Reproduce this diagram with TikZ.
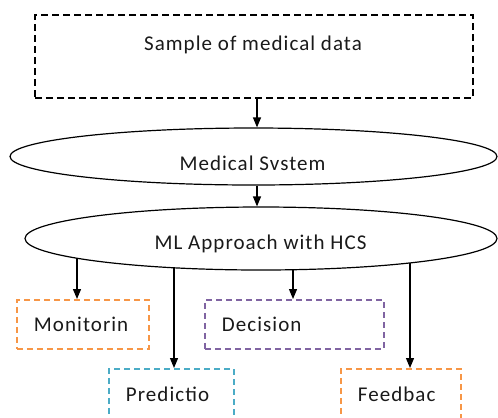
\documentclass[tikz,border=0pt]{standalone}
\usepackage{fontspec}
\setmainfont{Carlito}[LetterSpace=5]
\usetikzlibrary{shapes.geometric,arrows.meta,backgrounds}

\definecolor{boxorange}{HTML}{F79646}
\definecolor{boxpurple}{HTML}{8064A2}
\definecolor{boxcyan}{HTML}{4BACC6}
\definecolor{ink}{HTML}{1A1A1A}

\begin{document}
\begin{tikzpicture}[x=1bp,y=-1bp,
  every node/.style={font=\fontsize{21bp}{25bp}\selectfont, text=ink},
  arr/.style={draw=black, line width=1.2bp, -{Triangle[length=10bp,width=8bp]}},
  srcbox/.style={rectangle, draw=black, dash pattern=on 7bp off 4bp, line width=1.5bp, fill=white, inner sep=0pt},
  oval/.style={ellipse, draw=black, line width=1.2bp, fill=white, inner sep=0pt},
  leaf/.style={rectangle, dash pattern=on 6bp off 4bp, line width=1.9bp, fill=white,
    anchor=north west, minimum height=49bp, inner xsep=17bp, inner ysep=0pt, align=left},
]
\useasboundingbox (0,0) rectangle (498,417);

% input data and the two processing stages
\node[srcbox, minimum width=438bp, minimum height=83bp] (sample) at (254,56.5) {};
\node[anchor=base] (sampletxt) at (253,50) {Sample of medical data};
\node[oval, minimum width=487bp, minimum height=57bp] (medsys) at (253.5,156.5) {};
\node[anchor=base] (medsystxt) at (252.5,170) {Medical Svstem};
\node[oval, minimum width=472bp, minimum height=63bp] (ml) at (261,238.5) {};
\node[anchor=base] (mltxt) at (260.5,249) {ML Approach with HCS};

% outputs of the ML stage
\node[leaf, draw=boxorange, text width=98bp] (mon) at (16,299) {Monitorin};
\node[leaf, draw=boxpurple, text width=145bp] (dec) at (204,299) {Decision};
\node[leaf, draw=boxcyan, text width=91bp, minimum height=51bp] (pred) at (108,368) {Predictio};
\node[leaf, draw=boxorange, text width=86bp, minimum height=51bp] (feed) at (340,368) {Feedbac};

% main flow
\coordinate (flowx) at (257,0);
\draw[arr] (sample.south -| flowx) -- (medsys.north -| flowx);
\draw[arr] (medsys.south -| flowx) -- (ml.north -| flowx);

% branches, started inside the ellipse so its fill hides the start
\coordinate (monin) at ([xshift=61bp]mon.north west);
\coordinate (decin) at ([xshift=89bp]dec.north west);
\coordinate (predin) at ([xshift=66bp]pred.north west);
\coordinate (feedin) at ([xshift=70bp]feed.north west);
\begin{scope}[on background layer]
  \fill[white] (0,0) rectangle (498,417);
  \draw[arr] (ml.center -| monin) -- (monin);
  \draw[arr] (ml.center -| decin) -- (decin);
  \draw[arr] (ml.center -| predin) -- (predin);
  \draw[arr] (ml.center -| feedin) -- (feedin);
\end{scope}
\end{tikzpicture}
\end{document}
